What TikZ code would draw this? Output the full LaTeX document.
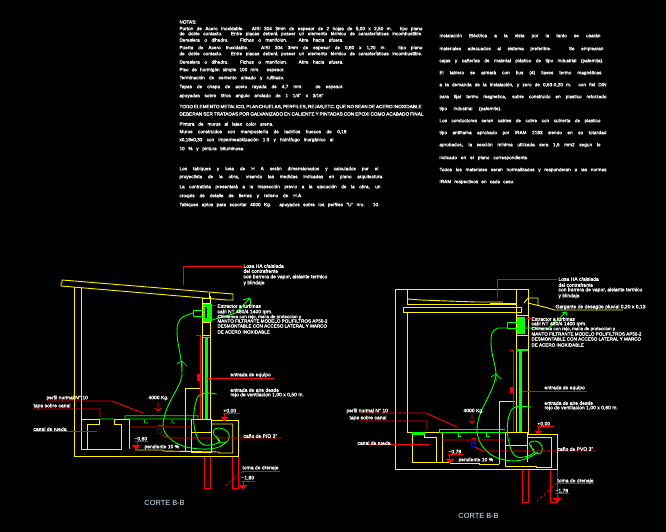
\documentclass[tikz,border=0pt]{standalone}
\usepackage{fontspec}
\setmainfont{Liberation Sans}
\newfontfamily\cadfont{Liberation Sans}[FakeBold=1.2]
\newcommand{\fila}[2]{\makebox[#1pt][s]{#2}}

\begin{document}
\begin{tikzpicture}[x=1pt,y=-1pt,line width=0.9pt,line join=miter,
  yellow line/.style={draw=yellow},red line/.style={draw=red},green line/.style={draw=green},
  thin red/.style={draw=red,line width=0.7pt},
  level mark/.style={fill=red,draw=red,line width=0.4pt},
  label text/.style={anchor=west,inner sep=0pt,text=white,font=\cadfont\fontsize{5}{5}\selectfont},
  caps text/.style={anchor=west,inner sep=0pt,text=white,font=\cadfont\fontsize{4.55}{5}\selectfont},
  nota/.style={anchor=west,inner sep=0pt,text=white,font=\cadfont\fontsize{4.7}{5}\selectfont},
  corte/.style={anchor=west,inner sep=0pt,text=white!85!cyan,font=\fontsize{7.4}{7}\selectfont}]

 \useasboundingbox (0,0) rectangle (666,532);
 \fill[black] (0,0) rectangle (666,532);

 % notas izquierda
 \node[nota] (notas) at (179,22) {NOTAS:};
 \node[nota] (n1) at (179,29) {\fila{243}{Porton de Acero Inoxidable. AISI 304 3mm de espesor de 2 hojas de 5,00 x 2,50 m. tipo piano}};
 \node[nota] (n2) at (179,34) {\fila{243}{de doble contacto. Entre placas deberá poseer un elemento térmico de características incombustible.}};
 \node[nota] (n3) at (179,40) {\fila{164}{Dereslera o dihedro. Fichos o manifolon. Abre hacia afuera.}};
 \node[nota] (n4) at (179,48) {\fila{243}{Puerta de Acero Inoxidable. AISI 304 3mm de espesor de 0,80 x 1,20 m. tipo piano}};
 \node[nota] (n5) at (179,54) {\fila{243}{de doble contacto. Entre placas deberá poseer un elemento térmico de características incombustible.}};
 \node[nota] (n6) at (179,62) {\fila{164}{Dereslera o dihedro. Fichos o manifolon. Abre hacia afuera.}};
 \node[nota] (n7) at (179,70) {\fila{105}{Piso de hormigón simple 100 mm. espesor.}};
 \node[nota] (n8) at (179,78) {\fila{105}{Terminación de cemento alisado y rufiliado.}};
 \node[nota] (n9) at (179,87) {\fila{164}{Tapas de chapa de acero rayada de 4,7 mm. de espesor.}};
 \node[nota] (n10) at (179,96) {\fila{144}{apoyadas sobre litros angulo anclado de 1 1/4" x 3/16"}};
 \node[nota] (n11) at (179,107) {\fila{241}{TODO ELEMENTO METALICO, PLANCHUELAS, PERFILES, REJAS,ETC. QUE NO SEAN DE ACERO INOXIDABLE}};
 \node[nota] (n12) at (179,114) {\fila{244}{DEBERAN SER TRATADAS POR GALVANIZADO EN CALIENTE Y PINTADAS CON EPOXI COMO ACABADO FINAL}};
 \node[nota] (n13) at (179,124) {\fila{94}{Pintura de muros al latex color arena.}};
 \node[nota] (n14) at (179,132) {\fila{167}{Muros construidos con mampostería de ladrillos huecos de 0,18}};
 \node[nota] (n15) at (179,140) {\fila{154}{x0,18x0,33 con impermeabilización 1:3 y hidrófugo inorgánico al}};
 \node[nota] (n16) at (179,149) {\fila{65}{10 \% y pintura bituminosa.}};
 \node[nota] (n17) at (179,169) {\fila{199}{Los tabiques y losa de H A serán dimensionados y calculados por el}};
 \node[nota] (n18) at (179,177) {\fila{204}{proyectista de la obra, visando las medidas indicadas en plano arquitectura.}};
 \node[nota] (n19) at (179,187) {\fila{201}{La contratista presentará a la inspección previo a la ejecución de la obra, un}};
 \node[nota] (n20) at (179,196) {\fila{123}{croquis de detalle de tierras y relleno de H.A.}};
 \node[nota] (n21) at (179,205) {\fila{200}{Tabiques aptos para soportar 4000 Kg. apoyados sobre los perfiles "U" nro. 10.}};

 % notas derecha
 \node[nota] (m1) at (439,36) {\fila{161}{Instalación Eléctrica a la vista por la tanto se usarán}};
 \node[nota] (m2) at (439,49) {\fila{164}{materiales adecuados al sistema preferible. Se emplearan}};
 \node[nota] (m3) at (439,61) {\fila{164}{cajas y cañerías de material plástico de tipo industrial (pafemita).}};
 \node[nota] (m4) at (439,73) {\fila{162}{El tablero se armará con bus (4) llaves termo magnéticas}};
 \node[nota] (m5) at (439,85) {\fila{167}{a la demanda de la instalación, y zero de 0,63-0,20 m. con fiel DIN}};
 \node[nota] (m6) at (439,97) {\fila{167}{para fijar termo magnetica, sobre construido en plastico reforzado}};
 \node[nota] (m7) at (439,109) {\fila{62}{tipo industrial (pafemite).}};
 \node[nota] (m8) at (439,121) {\fila{161}{Los conductores seran cables de cobre con cubierta de plastico}};
 \node[nota] (m9) at (439,133) {\fila{167}{tipo antiflama aprobado por IRAM 2183 siendo en su totalidad}};
 \node[nota] (m10) at (439,145) {\fila{161}{aprobados, la sección mínima utilizada sera 1,5 mm2 segun lo}};
 \node[nota] (m11) at (439,158) {\fila{89}{indicado en el plano correspondiente.}};
 \node[nota] (m12) at (439,170) {\fila{167}{Todos los materiales seran normalizados y responderan a las normas}};
 \node[nota] (m13) at (439,182) {\fila{75}{IRAM respectivos en cada caso.}};

 % corte izquierdo: muros y losa
 \draw[yellow line] (62,280)--(233,294)--(233,300)--(227,300)--(61,286)--(61,283)--(62,283)--cycle;
 \draw[yellow line] (74,287)--(74,456)--(238,456)--(238,420)--(211,420);
 \draw[yellow line] (81.7,288)--(81.7,449)--(121.7,449)--(121.7,424)--(114,424)--(114,419);
 \draw[yellow line] (81.7,419)--(99,419)--(99,424)--(87,424)--(87,449);
 \draw[yellow line] (114,419)--(129,419)--(129,449);
 \draw[yellow line] (135,450)--(163,450)--(163,451)--(219,452)--(219,453)--(232.7,453)--(232.7,424)--(211,424);
 \draw[yellow line] (191,419)--(211,419)--(211,452)--(191,452)--cycle (191,432)--(211,432);
 \draw[yellow line] (200,388)--(185,388)--(185,451);
 \draw[yellow line] (202,298)--(202,419) (210.7,296)--(210.7,419) (202,298)--(210.7,298) (202,303)--(210.7,303)
   (202,322)--(210.7,322) (202,335)--(210.7,335) (209,293)--(209,298);
 % corte izquierdo: extractor y conducto
 \fill[green] (203,304) rectangle (212,322);
 \fill[black] (204.5,307) rectangle (207,318);
 \fill[green] (205,338) rectangle (208.3,419);
 \draw[green line] (203,337)--(210,337) (193,310)--(203,310) (193,316)--(203,316) (193,310)--(193,316);
 \draw[green line] (193,313) .. controls (183,316) and (177,318) .. (177,331) .. controls (177,345) and (182,355) .. (182,375)
   .. controls (180,390) and (163,405) .. (163,427) .. controls (165,438) and (178,446) .. (191,448)
   .. controls (205,450) and (220,450) .. (226,442);
 \draw[green line,line width=0.7pt] (177,364)--(182,361)--(187,366) (182,361)--(182,368);
 \draw[green line] (212,320)--(236,313)--(250,298) (243,300)--(250,298)--(251,306);
 \draw[green line] (99,419)--(114,419) (125,419)--(191,419) (125,415.7)--(193,415.7)--(198,415.7)--(198,419) (125,415.7)--(125,419)
   (144,420)--(145,423)--(148,423) (172,420)--(172,423)--(175,423);
 \draw[green line] (216.7,394) .. controls (205,392) and (200,393) .. (197,398) .. controls (193,410) and (192,425) .. (197,437)
   .. controls (200,445) and (205,446) .. (210,445) .. controls (218,444) and (222,442) .. (218,438)
   .. controls (210,434) and (213,428) .. (218,428) .. controls (226,428) and (231,434) .. (229,438)
   .. controls (227,446) and (218,444) .. (216,436);
 % corte izquierdo: pilotes y cotas
 \draw[red line] (204,457)--(204,488)--(210,488)--(210,457) (232,457)--(232,488)--(238,488)--(238,457);
 \draw[red line] (200.7,335)--(200.7,419) (196,335)--(200.7,335);
 \fill[red] (197,374) rectangle (200.7,381);
 \draw[red line] (212,305.7)--(216,305.7) (183,285)--(183,266)--(243,266);
 \draw[red line] (207,378)--(274,378);
 \draw[red line] (47,401)--(112,401)--(143,413) (33,409)--(100,409)--(100,417);
 \draw[thin red] (33,431)--(97,431);
 \draw[red line] (129,427)--(192,427) (162,435)--(170,438)--(282,438);
 \draw[red line] (158,402)--(158,411) (155,408)--(158,411)--(161,408);
 \draw[red line] (135,441)--(148,441) (137,441)--(137,448) (223,413)--(240,413) (224,413)--(224,418)
   (242,471)--(280,471) (242,481)--(255,481) (243,481)--(243,485);
 \draw[level mark] (132,445)--(140,445)--(136,449)--cycle (221,417)--(228,417)--(224,421)--cycle (239,485)--(247,485)--(243,489)--cycle;
 \draw[thin red,densely dashed] (243,471)--(224,487);
 \draw[blue,line width=0.8pt] (157,429) rectangle (161,433);
 \draw[red line] (158,425)--(163,425);
 \node[label text] (losaA) at (243,266) {Losa HA c/aislada};
 \node[label text] (losaB) at (243,271) {del contrafrente};
 \node[label text] (losaC) at (243,277) {con barrera de vapor, aislante termico};
 \node[label text] (losaD) at (243,283) {y blindaje};
 \node[label text] (extA) at (217,306) {Extractor a turbinas};
 \node[label text] (extB) at (217,312) {cabl NT 480/4 1400 rpm.};
 \node[caps text] (extC) at (217,317) {Chimenea con rejo, malla de proteccion y};
 \node[caps text] (extD) at (217,321) {MANTO FILTRANTE MODELO POLIFILTROS AP50-2};
 \node[caps text] (extE) at (217,326) {DESMONTABLE CON ACCESO LATERAL Y MARCO};
 \node[caps text] (extF) at (217,332) {DE ACERO INOXIDABLE};
 \node[label text] (equipoA) at (230,375) {entrada de equipo};
 \node[label text] (aireA) at (230,390) {entrada de aire desde};
 \node[label text] (rejaA) at (230,395) {rejo de ventilacion 1,00 x 0,50 m.};
 \node[label text] (perfilA) at (46,398) {perfil normal N° 10};
 \node[label text] (tapaA) at (33,406) {tapa sobre canal};
 \node[label text] (canalA) at (33,429) {canal de rueda};
 \node[label text] (cargaA) at (148,398) {4000 Kg.};
 \node[label text] (cotaA) at (134,439) {−0,60};
 \node[label text] (pendA) at (144,447) {pendiente 10 \%};
 \node[label text] (ceroA) at (223,411) {+0,00};
 \node[label text] (canoA) at (243,436) {caño de P/O 3"};
 \node[label text] (tomaA) at (242,468) {toma de drenaje};
 \node[label text] (fondoA) at (241,478) {−1,80};
 \node[corte] (corteA) at (144,503) {CORTE B-B};

 % corte derecho: muros y losa
 \draw[yellow line] (395,289)--(528,289)--(528,434)--(557,434)--(557,469)--(395,469)--cycle;
 \draw[yellow line] (407,289)--(407,304)--(516,304) (407,312)--(407,432)--(440,432);
 \draw[yellow line] (407,299)--(421,300)--(448,301)--(476,302)--(503,302);
 \draw[yellow line,line width=1.4pt] (490,303.5)--(516,303.5);
 \draw[yellow line] (521,307)--(403,307)--(403,312)--(521,312)--cycle;
 \draw[yellow line] (516,289)--(516,432);
 \draw[yellow line] (524,303)--(528,298)--(538,298)--(538,305) (528,303)--(548,308)--(554,310)--(623,310);
 \draw[yellow line] (516,315)--(528,315) (516,335)--(528,335) (516,349)--(528,349);
 \draw[yellow line] (412,433)--(412,462)--(450,462)--(450,463)--(479,463)--(479,464)--(499,464) (424,432)--(424,437)--(436,437)--(436,462)
   (442,432)--(442,462);
 \draw[yellow line] (515,401)--(499,401)--(499,464);
 \draw[yellow line] (505,432)--(527,432) (505,432)--(505,466)--(536,466)--(536,467)--(551,467)--(551,437)--(527,437)
   (505,445)--(527,445) (527,432)--(527,462);
 % corte derecho: extractor y conducto
 \fill[green] (517,317) rectangle (525,334);
 \fill[green] (516,349) rectangle (528,351);
 \fill[green] (519,351) rectangle (522,432);
 \fill[green] (412,432) rectangle (425,434.5);
 \draw[green line] (507,322)--(517,322) (507,328)--(517,328) (507,322)--(507,328);
 \draw[green line] (507,328)--(498,328) .. controls (491,331) and (491,335) .. (491,342) .. controls (491,355) and (496,365) .. (496,375)
   .. controls (493,395) and (477,410) .. (477,430) .. controls (477,445) and (490,458) .. (505,460)
   .. controls (520,463) and (530,458) .. (538,452);
 \draw[green line,line width=0.7pt] (491,377)--(496,374)--(501,379) (496,374)--(496,381);
 \draw[green line] (522,328)--(549,328)--(566,312) (562,313)--(566,312)--(567,316);
 \draw[green line] (439,432)--(505,432) (439,429)--(505,429) (439,429)--(439,432)
   (458,433)--(458,436)--(461,436) (486,433)--(486,436)--(490,436);
 \draw[green line] (531,407) .. controls (518,406) and (513,405) .. (510,413) .. controls (507,420) and (505,435) .. (512,452)
   .. controls (515,458) and (520,458) .. (524,457) .. controls (535,455) and (536,450) .. (532,448)
   .. controls (527,443) and (530,441) .. (535,441) .. controls (542,442) and (544,448) .. (541,453)
   .. controls (537,456) and (532,452) .. (531,445);
 % corte derecho: pilotes y cotas
 \draw[red line] (522,470)--(522,502)--(528,502)--(528,470) (550,470)--(550,502)--(557,502)--(557,470);
 \draw[red line] (513,350)--(513,432) (510,350)--(513,350);
 \fill[red] (510,387) rectangle (513,393);
 \draw[red line] (497,298)--(497,279)--(557,279) (527,318)--(531,318);
 \draw[red line] (522,391)--(587,391);
 \draw[red line] (360,413)--(426,413)--(457,427) (360,421)--(427,421)--(427,430);
 \draw[thin red] (367,444)--(429,444);
 \draw[red line] (442,440)--(505,440) (475,447)--(483,451)--(596,451);
 \draw[red line] (472,414)--(472,423) (469,421)--(472,423)--(475,421);
 \draw[red line] (448,454)--(463,454) (449,454)--(449,459) (537,426)--(554,426) (538,426)--(538,431)
   (557,483)--(594,483) (555,493)--(569,493) (557,493)--(557,498) (557,470)--(557,483);
 \draw[level mark] (446,459)--(454,459)--(450,463)--cycle (535,431)--(542,431)--(538,434)--cycle (553,498)--(561,498)--(557,502)--cycle;
 \draw[thin red,densely dashed] (557,483)--(537,501);
 \draw[blue,line width=0.8pt] (471,442) rectangle (475,446);
 \draw[red line] (471,438)--(476,438);
 \node[label text] (losaE) at (558,279) {Losa HA c/aislada};
 \node[label text] (losaF) at (558,285) {del contrafrente};
 \node[label text] (losaG) at (558,290) {con barrera de vapor, aislante termico};
 \node[label text] (losaH) at (558,296) {y blindaje};
 \node[label text] (garganta) at (555,307) {Gargante de desagüe pluvial 0,20 x 0,13};
 \node[label text] (extG) at (531,319) {Extractor a turbinas};
 \node[label text] (extH) at (531,324) {cabl NT 480/4 1400 rpm.};
 \node[caps text] (extI) at (531,329) {Chimenea con rejo, malla de proteccion y};
 \node[caps text] (extJ) at (531,334) {MANTO FILTRANTE MODELO POLIFILTROS AP50-2};
 \node[caps text] (extK) at (531,339) {DESMONTABLE CON ACCESO LATERAL Y MARCO};
 \node[caps text] (extL) at (531,345) {DE ACERO INOXIDABLE};
 \node[label text] (equipoB) at (544,388) {entrada de equipo};
 \node[label text] (aireB) at (544,403) {entrada de aire desde};
 \node[label text] (rejaB) at (544,408) {rejo de ventilacion 1,00 x 0,60 m.};
 \node[label text] (perfilB) at (346,411) {perfil normal N° 10};
 \node[label text] (tapaB) at (349,418) {tapa sobre canal};
 \node[label text] (canalB) at (357,443) {canal de rueda};
 \node[label text] (cargaB) at (463,411) {4000 Kg.};
 \node[label text] (cotaB) at (448,452) {−0,78};
 \node[label text] (pendB) at (458,460) {pendiente 10 \%};
 \node[label text] (ceroB) at (537,424) {+0,00};
 \node[label text] (canoB) at (557,449) {caño de PVO 3"};
 \node[label text] (tomaB) at (557,481) {toma de drenaje};
 \node[label text] (fondoB) at (555,491) {−1,78};
 \node[corte] (corteB) at (458,516) {CORTE B-B};
\end{tikzpicture}
\end{document}
